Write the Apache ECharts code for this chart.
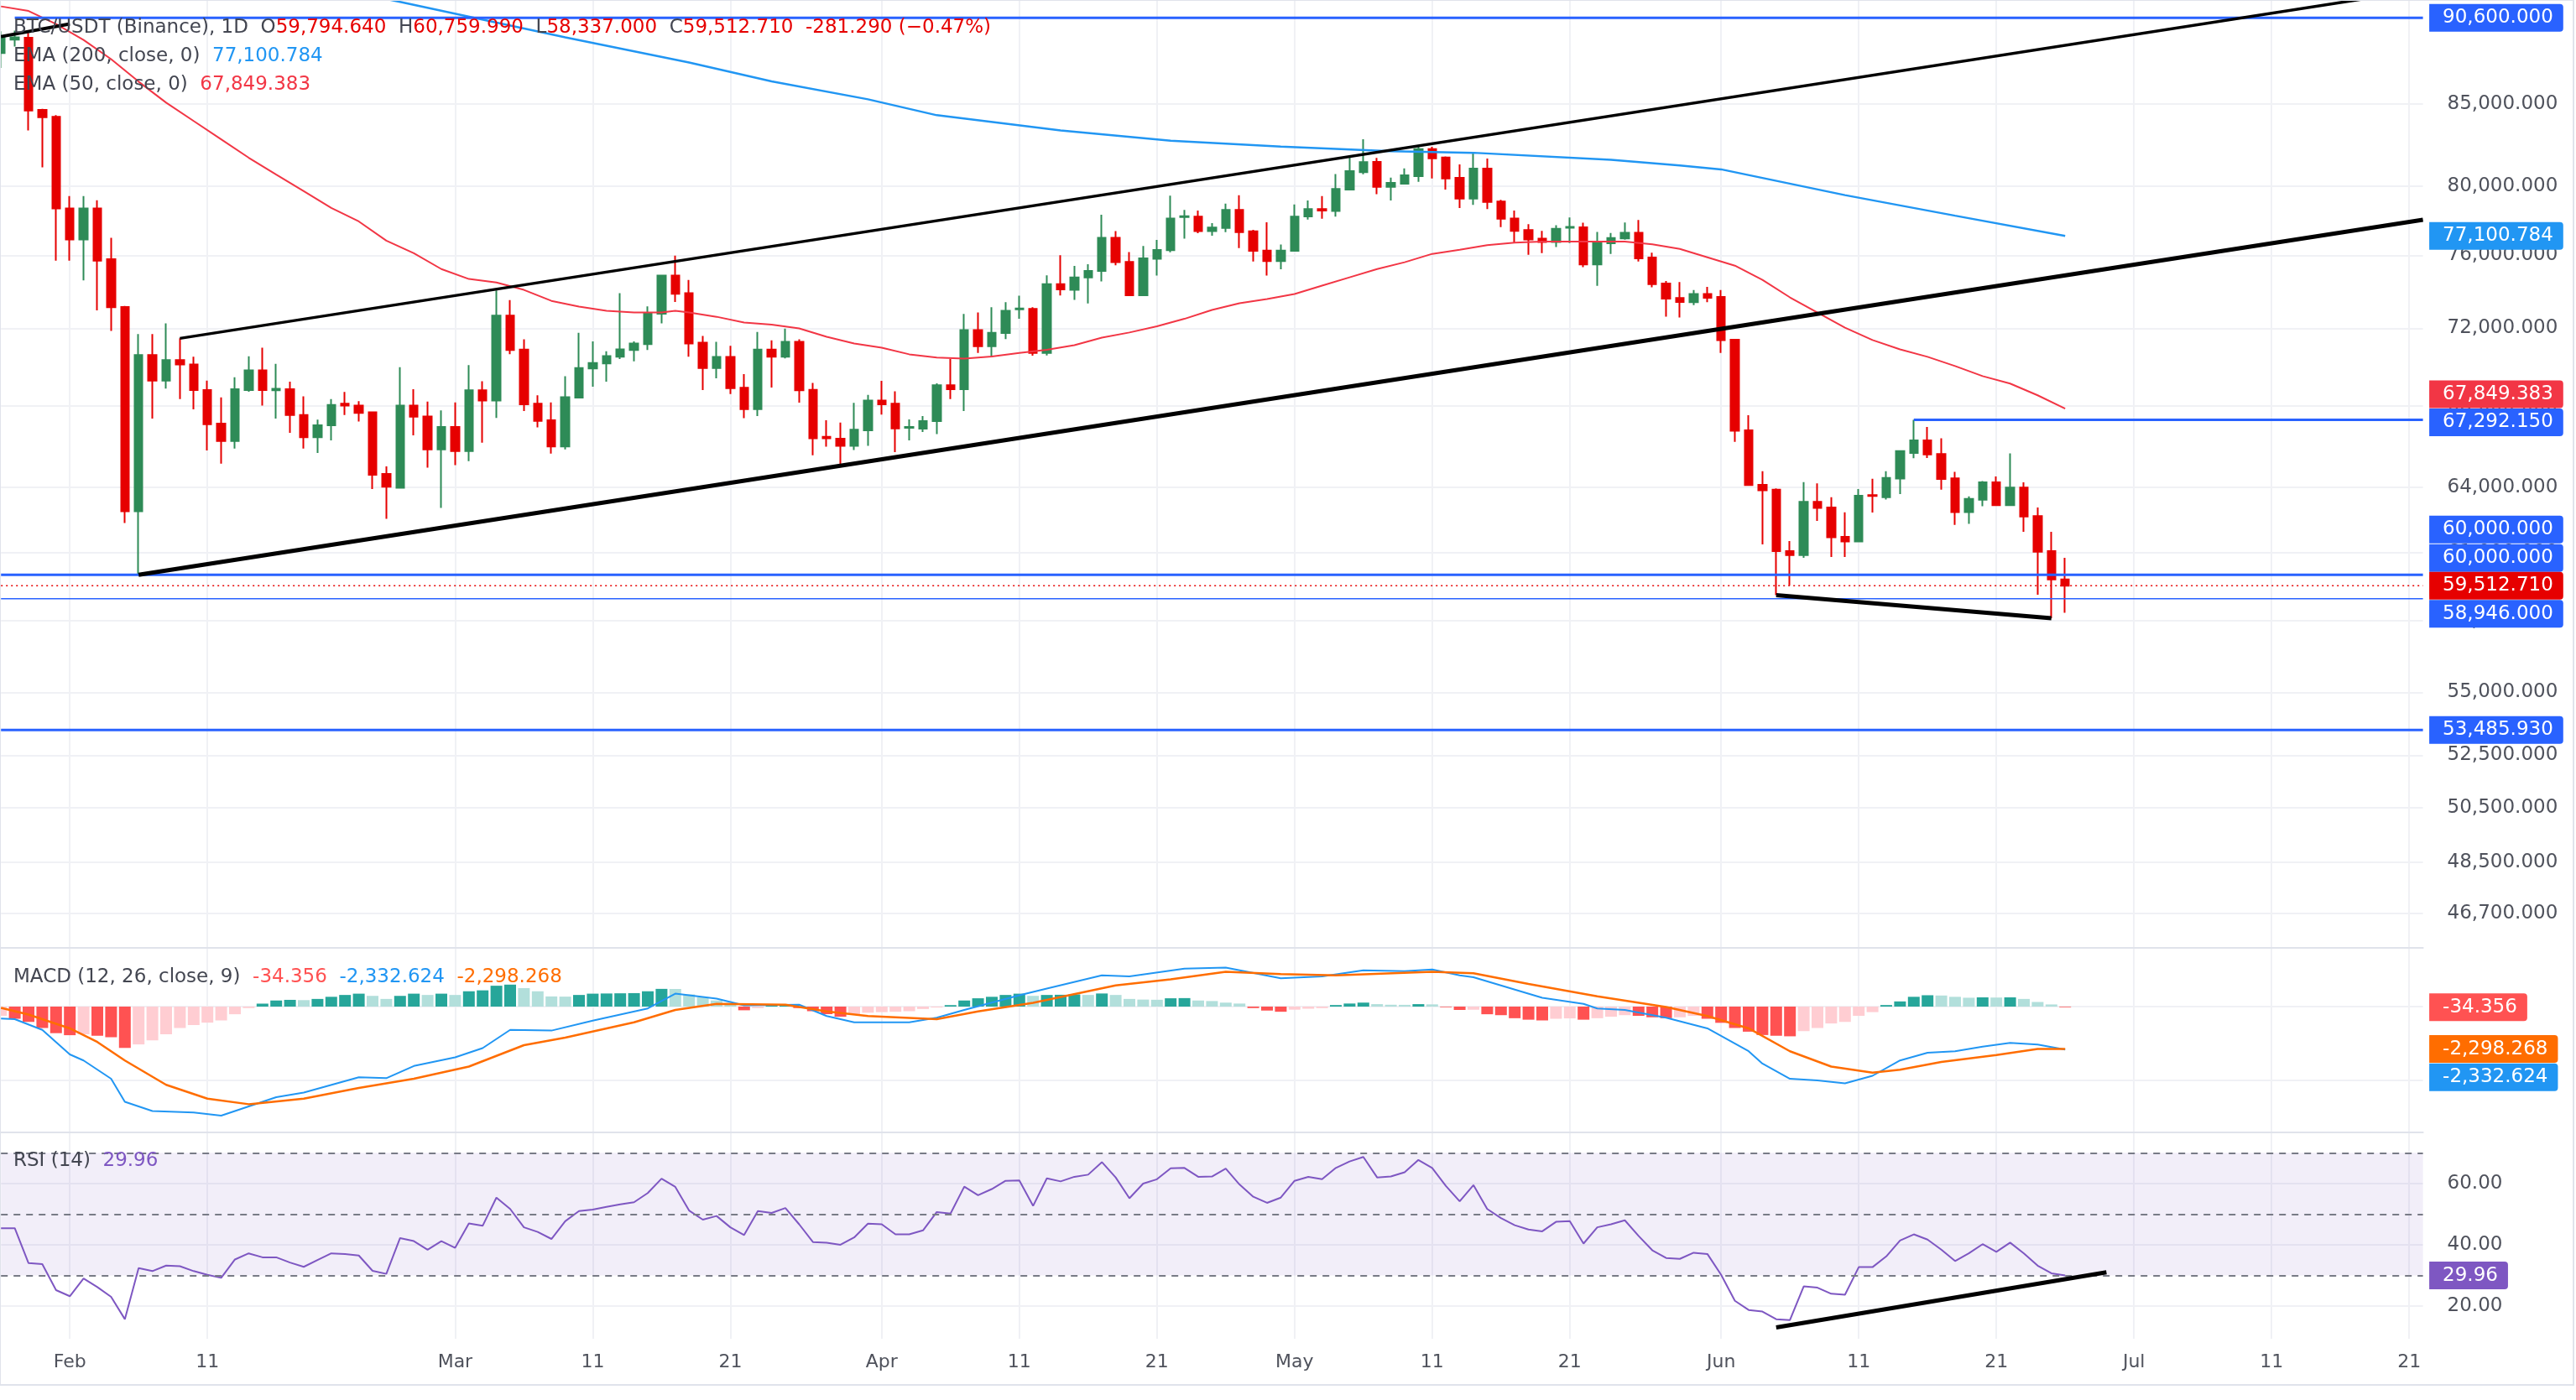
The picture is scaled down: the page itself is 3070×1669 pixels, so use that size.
<!DOCTYPE html>
<html>
<head>
<meta charset="utf-8">
<title>BTC/USDT 1D</title>
<script src="https://cdn.jsdelivr.net/npm/echarts@6/dist/echarts.min.js"></script>
<style>
  html, body { margin: 0; padding: 0; background: #fff; }
  #chart { width: 3070px; height: 1669px; }
</style>
</head>
<body>
<div id="chart"></div>
<script>
// daily bars starting 2026-01-27, rows are [open, high, low, close]
const candles = [
  [88270, 89700, 87300, 89270], [89150, 89750, 88700, 89300], [89270, 89600, 83360, 84590], [84640, 84700, 81110, 84180],
  [84200, 84300, 75700, 78680], [78680, 79400, 75700, 76900], [76900, 79400, 74600, 78680], [78680, 79160, 72970, 75700],
  [75780, 76990, 71860, 73130], [73150, 73200, 62340, 62890], [62890, 71700, 60000, 70590], [70590, 71700, 67350, 69270],
  [69270, 72270, 68860, 70330], [70330, 71470, 68330, 70100], [70100, 70500, 67810, 68790], [68790, 69270, 65780, 67070],
  [67100, 68410, 65140, 66240], [66240, 69440, 65870, 68830], [68790, 70530, 68700, 69800], [69800, 70980, 68000, 68790],
  [68780, 70130, 67350, 68850], [68830, 69220, 66640, 67530], [67530, 68470, 65870, 66430], [66430, 67300, 65660, 67020],
  [67020, 68330, 66270, 68030], [68100, 68690, 67530, 68000], [68000, 68220, 67200, 67630], [67660, 67700, 63930, 64610],
  [64650, 65010, 62540, 64040], [63990, 69960, 63950, 68000], [68000, 68830, 66520, 67440], [67460, 68200, 64950, 65830],
  [65830, 67760, 63040, 66930], [66930, 68160, 65070, 65750], [65750, 70070, 65260, 68780], [68780, 69240, 66160, 68250],
  [68250, 74050, 67380, 72680], [72680, 73520, 70640, 70860], [70880, 71420, 67730, 68070], [68100, 68520, 66910, 67240],
  [67270, 68160, 65630, 65970], [65970, 69490, 65830, 68420], [68400, 71760, 68400, 69920], [69900, 71310, 68960, 70180],
  [70160, 70790, 69220, 70540], [70510, 73900, 70390, 70890], [70860, 71310, 70260, 71200], [71170, 73180, 70860, 72820],
  [72780, 74900, 72270, 74870], [74870, 75980, 73420, 73860], [73900, 74630, 70510, 71200], [71240, 71600, 68790, 69920],
  [69920, 71290, 69390, 70490], [70490, 71080, 68580, 68880], [68900, 69600, 67370, 67820], [67820, 71810, 67480, 70880],
  [70880, 71360, 68910, 70510], [70510, 71990, 70420, 71290], [71290, 71420, 68150, 68780], [68800, 69150, 65550, 66380],
  [66450, 67270, 65960, 66380], [66350, 67150, 65010, 66010], [66010, 68140, 65800, 66800], [66770, 68540, 66010, 68250],
  [68250, 69260, 67550, 68070], [68100, 68720, 65700, 66860], [66890, 67310, 66270, 66930], [66850, 67480, 66690, 67230],
  [67220, 69130, 66580, 69030], [69030, 70380, 68330, 68830], [68830, 72770, 67730, 71910], [71910, 72850, 70700, 71050],
  [71050, 73140, 70480, 71760], [71750, 73410, 71430, 72940], [73020, 73760, 72510, 73070], [73050, 73140, 70560, 70700],
  [70700, 74880, 70570, 74390], [74390, 76010, 73770, 74110], [74080, 75400, 73530, 74760], [74770, 75500, 73340, 75130],
  [75130, 78320, 74540, 76990], [76990, 77370, 75440, 75620], [75630, 76180, 73780, 73780], [73780, 76530, 73750, 75830],
  [75810, 76870, 74870, 76300], [76290, 79430, 76170, 78100], [78180, 78600, 76940, 78230], [78200, 78560, 77250, 77370],
  [77370, 77830, 77110, 77580], [77550, 78960, 77310, 78600], [78600, 79450, 76410, 77310], [77360, 77440, 75650, 76250],
  [76270, 77880, 74870, 75670], [75670, 76610, 75220, 76270], [76250, 78910, 76250, 78200], [78220, 79140, 78040, 78650],
  [78650, 79400, 78090, 78560], [78530, 80710, 78200, 79830], [79790, 81720, 79790, 80880], [80820, 82820, 80690, 81420],
  [81440, 81680, 79510, 79950], [79950, 80490, 79150, 80180], [80130, 81050, 80130, 80630], [80580, 82450, 80250, 82210],
  [82210, 82350, 80440, 81650], [81700, 81770, 79790, 80440], [80480, 81290, 78710, 79260], [79260, 82000, 78890, 81030],
  [81030, 81640, 78640, 79060], [79090, 79180, 77600, 78090], [78100, 78560, 76690, 77380], [77430, 77770, 76030, 76900],
  [76940, 77380, 76120, 76750], [76750, 77710, 76460, 77510], [77560, 78160, 76690, 77610], [77590, 77860, 75340, 75490],
  [75490, 77320, 74300, 76700], [76680, 77260, 76070, 76980], [76950, 77870, 76880, 77280], [77280, 78010, 75650, 75830],
  [75870, 76150, 74220, 74400], [74430, 74570, 72630, 73600], [73640, 74510, 72580, 73420], [73410, 74070, 73250, 73850],
  [73850, 74250, 73410, 73650], [73690, 74070, 70700, 71370], [71400, 71400, 66200, 66750], [66770, 67520, 64120, 64120],
  [64130, 64780, 61360, 63870], [63900, 63960, 59100, 61060], [61060, 61520, 59530, 60880], [60880, 64260, 60760, 63330],
  [63330, 64200, 62440, 63040], [63060, 63540, 60790, 61690], [61710, 62840, 60790, 61500], [61500, 63930, 61500, 63610],
  [63640, 64420, 62830, 63600], [63540, 64780, 63430, 64460], [64430, 65790, 63690, 65750], [65660, 67292.15, 65400, 66270],
  [66270, 66930, 65410, 65590], [65610, 66380, 63900, 64410], [64440, 64750, 62250, 62850], [62850, 63580, 62300, 63460],
  [63420, 64310, 63120, 64250], [64250, 64530, 63170, 63170], [63170, 65640, 63170, 64000], [64000, 64250, 61940, 62640],
  [62660, 63060, 59120, 61030], [61060, 61940, 58100, 59794.64], [59794.64, 60759.99, 58337, 59512.71]
];

// [day index, value]
const ema200 = [
  [25, 92475], [29, 91670], [41, 89300], [50, 87650], [56, 86440], [63, 85300], [68, 84300], [77, 83360],
  [85, 82730], [93, 82360], [101, 82090], [107, 81990], [117, 81560], [122, 81220], [125, 80990], [134, 79460],
  [142, 78260], [150, 77100.784]
];
const ema50 = [
  [0, 91370], [2, 91060], [4, 90190], [6, 89130], [8, 87870], [10, 86420], [12, 85090], [14, 83940], [16, 82810],
  [18, 81690], [20, 80680], [22, 79690], [24, 78710], [26, 77930], [28, 76830], [30, 76120], [32, 75230], [34, 74680],
  [36, 74490], [38, 74080], [40, 73480], [42, 73170], [44, 72940], [46, 72850], [48, 72850], [49, 72940], [50, 72850],
  [52, 72620], [54, 72310], [56, 72200], [58, 72000], [60, 71550], [62, 71200], [64, 70980], [66, 70630], [68, 70460],
  [70, 70410], [72, 70520], [74, 70700], [76, 70870], [78, 71110], [80, 71510], [82, 71780], [84, 72110], [86, 72510],
  [88, 72990], [90, 73350], [92, 73580], [94, 73850], [96, 74310], [98, 74770], [100, 75230], [102, 75610], [104, 76080],
  [106, 76310], [108, 76570], [110, 76710], [112, 76780], [116, 76780], [118, 76780], [120, 76620], [122, 76360],
  [124, 75890], [126, 75420], [128, 74630], [130, 73670], [132, 72850], [134, 72040], [136, 71380], [138, 70890],
  [140, 70500], [142, 70020], [144, 69500], [146, 69120], [148, 68520], [150, 67849.383]
];

// MACD (12, 26, 9)
const macdLine = [
  [0, -645], [1, -680], [3, -1260], [5, -2590], [6, -2920], [8, -3910], [9, -5160], [11, -5660], [14, -5740],
  [16, -5910], [20, -4910], [22, -4660], [26, -3830], [28, -3880], [30, -3220], [33, -2750], [35, -2250], [37, -1260],
  [40, -1300], [43, -760], [47, -100], [49, 700], [52, 430], [54, 70], [58, 100], [60, -510], [62, -850], [66, -850],
  [68, -600], [70, -180], [74, 610], [76, 980], [80, 1690], [82, 1640], [86, 2060], [89, 2110], [93, 1530], [96, 1640],
  [99, 1970], [102, 1920], [104, 2010], [106, 1690], [107, 1590], [112, 480], [115, 150], [116, -100], [118, -180],
  [121, -600], [124, -1180], [127, -2420], [128, -3090], [130, -3910], [132, -4000], [134, -4160], [136, -3750],
  [138, -2920], [140, -2500], [142, -2420], [144, -2170], [146, -1970], [148, -2060], [150, -2332.624]
];
const signalLine = [
  [0, -70], [2, -430], [5, -1180], [7, -1920], [9, -2920], [12, -4240], [15, -4990], [18, -5290], [22, -4990],
  [26, -4410], [30, -3910], [34, -3250], [38, -2090], [41, -1680], [46, -850], [49, -180], [52, 150], [57, 100],
  [60, -260], [63, -510], [68, -680], [71, -260], [75, 200], [81, 1150], [85, 1480], [89, 1890], [93, 1760],
  [97, 1690], [104, 1890], [107, 1810], [111, 1230], [116, 560], [121, -20], [124, -510], [127, -1180], [130, -2420],
  [133, -3250], [136, -3580], [138, -3420], [141, -3000], [145, -2620], [148, -2300], [150, -2298.268]
];
const macdHist = [
  -500, -660, -830, -1160, -1440, -1550, -1500, -1580, -1660, -2240,
  -2050, -1830, -1500, -1160, -1000, -870, -750, -415, -80, 160,
  330, 365, 350, 415, 530, 630, 700, 580, 415, 580,
  700, 630, 700, 630, 830, 880, 1130, 1190, 1000, 830,
  550, 540, 630, 700, 710, 720, 730, 830, 960, 955,
  660, 500, 330, 200, -200, -80, 50, 60, -80, -250,
  -410, -550, -410, -330, -300, -280, -250, -130, -50, 80,
  330, 450, 530, 630, 700, 580, 630, 640, 660, 630,
  710, 630, 415, 380, 370, 450, 460, 330, 300, 215,
  165, -80, -216, -280, -166, -116, -83, 83, 166, 216,
  133, 100, 95, 133, 120, -33, -183, -170, -415, -465,
  -630, -710, -750, -660, -640, -710, -630, -550, -465, -500,
  -580, -630, -580, -500, -660, -880, -1160, -1360, -1540, -1580,
  -1610, -1330, -1160, -915, -830, -500, -300, 83, 280, 530,
  615, 600, 530, 480, 500, 490, 500, 415, 250, 116,
  -34.356
];

// RSI (14)
const rsi = [
  45.4, 45.4, 34.0, 33.7, 25.2, 23.2, 29.0, 26.2, 23.0, 15.7,
  32.4, 31.4, 33.2, 33.0, 31.4, 30.2, 29.2, 35.2, 37.2, 35.9,
  35.9, 34.2, 32.8, 35.0, 37.2, 37.0, 36.5, 31.5, 30.5, 42.2,
  41.2, 38.4, 41.2, 39.0, 47.0, 46.2, 55.4, 51.7, 45.7, 44.2,
  41.9, 47.7, 51.0, 51.5, 52.4, 53.2, 53.9, 56.9, 61.6, 58.9,
  51.2, 48.2, 49.4, 45.7, 43.2, 51.0, 50.4, 52.0, 46.7, 40.9,
  40.7, 40.0, 42.4, 46.9, 46.7, 43.4, 43.4, 44.7, 50.7, 50.2,
  59.0, 56.2, 58.2, 60.9, 61.0, 52.7, 61.7, 60.7, 62.2, 62.9,
  67.0, 62.0, 55.2, 60.0, 61.4, 65.0, 65.1, 62.2, 62.3, 64.9,
  59.7, 55.7, 53.7, 55.4, 60.9, 62.2, 61.4, 65.1, 67.2, 68.7,
  62.0, 62.3, 63.7, 67.7, 65.1, 59.2, 54.2, 59.5, 51.7, 48.7,
  46.4, 45.0, 44.4, 47.5, 47.7, 40.4, 45.7, 46.7, 48.0, 42.9,
  38.2, 35.7, 35.4, 37.4, 37.0, 30.2, 21.7, 18.7, 18.2, 15.7,
  15.4, 26.4, 26.0, 24.0, 23.7, 32.7, 32.7, 36.2, 41.4, 43.4,
  41.7, 38.4, 34.7, 37.2, 40.2, 37.7, 40.7, 37.2, 33.2, 30.7,
  29.96
];

// drawings: [day index, price] end points
const upperChannel = [[13, 71470], [176, 92505]];
const lowerChannel = [[10, 60000], [176, 78020]];
const supportSlope = [[129, 59100], [149, 58100]];
const oldTrend = [[0, 89350], [5, 90190]];
const rsiTrend = [[129, 13.0], [153, 31.0]];
const levels = [
  { price: 90600, from: 1, width: 3 },
  { price: 67292.15, from: 139, width: 3 },
  { price: 60000, from: 0, width: 3 },
  { price: 58946, from: 0, width: 1.5 },
  { price: 53485.93, from: 0, width: 3 }
];
const lastPrice = 59512.71;

const priceTicks = [85000, 80000, 76000, 72000, 68000, 64000, 61000, 58000, 55000, 52500, 50500, 48500, 46700];
const macdTicks = [-4000, 0];
const rsiTicks = [20, 40, 60];
const rsiBands = [30, 50, 70];

const headerChange = '-281.290 (\u22120.47%)';
const monthNames = ['Jan', 'Feb', 'Mar', 'Apr', 'May', 'Jun', 'Jul', 'Aug', 'Sep', 'Oct', 'Nov', 'Dec'];
const skippedMarks = ['2026-02-21'];

const dayCount = 177;
const dates = [];
for (let i = 0; i < dayCount; i++) {
  dates.push(new Date(Date.UTC(2026, 0, 27) + i * 86400000).toISOString().slice(0, 10));
}
const lastIdx = dayCount - 1;

const fam = "'DejaVu Sans', sans-serif";
const red = '#e60000';
const green = '#2e8b57';
const lineBlue = '#2962ff';
const gridColor = '#f0f1f5';
const textGray = '#4f525c';

function fmt(v, d) {
  return v.toLocaleString('en-US', { minimumFractionDigits: d, maximumFractionDigits: d });
}
function isMark(idx) {
  const d = dates[idx];
  const day = +d.slice(8);
  return (day === 1 || day === 11 || day === 21) && skippedMarks.indexOf(d) < 0;
}
function tag(value, bg, dy, text) {
  return {
    coord: [lastIdx, value],
    label: { formatter: text || fmt(value, 3), backgroundColor: bg, offset: [0, dy || 0] }
  };
}
function tags(list) {
  return {
    symbol: 'rect',
    symbolSize: 1,
    silent: true,
    itemStyle: { color: 'rgba(0,0,0,0)' },
    label: {
      show: true, position: 'right', distance: 7, color: '#fff', fontSize: 23, fontFamily: fam,
      fontWeight: 'normal', lineHeight: 24, padding: [5, 12, 4, 16], borderRadius: [0, 4, 4, 0]
    },
    data: list
  };
}
function seg(points, color, width, extra) {
  return Object.assign({
    type: 'line', xAxisIndex: 0, yAxisIndex: 0, data: points, symbol: 'none', z: 5,
    lineStyle: { color: color, width: width }, silent: true
  }, extra || {});
}

const chart = echarts.init(document.getElementById('chart'));

const xAxisBase = (gi, showLine, showLabel) => ({
  type: 'category', gridIndex: gi, data: dates, boundaryGap: false,
  axisLine: { show: showLine, onZero: false, lineStyle: { color: '#e0e3eb', width: 2 } },
  axisTick: { show: false },
  axisLabel: {
    show: showLabel, interval: (i) => isMark(i), margin: 17, color: textGray, fontSize: 22, fontFamily: fam,
    formatter: (v) => { const day = +v.slice(8); return day === 1 ? monthNames[+v.slice(5, 7) - 1] : String(day); }
  },
  splitLine: { show: true, interval: (i) => isMark(i), lineStyle: { color: gridColor, width: 2 } }
});

const last = candles[candles.length - 1];
const rs = (color) => ({ color: color, fontSize: 23, fontFamily: fam, fontWeight: 'normal', lineHeight: 26 });
const rich = {
  n: rs('#434651'), r: rs(red), b: rs('#2196f3'), p: rs('#f23645'),
  h: rs('#ff5252'), o: rs('#ff6d00'), v: rs('#7e57c2')
};
const titleText = (left, top, text) => ({
  left: left, top: top, padding: 0, text: text, z: 10,
  textStyle: { fontSize: 23, fontFamily: fam, fontWeight: 'normal', color: '#434651', lineHeight: 26, rich: rich }
});

const levelSeries = levels.map((lv) => seg([[lv.from, lv.price], [lastIdx, lv.price]], lineBlue, lv.width));
// right scale tags for the level lines
levelSeries[0].markPoint = tags([tag(90600, lineBlue)]);
levelSeries[1].markPoint = tags([tag(67292.15, lineBlue, 3)]);
levelSeries[2].markPoint = tags([tag(60000, lineBlue, -54), tag(60000, lineBlue, -20)]);
levelSeries[3].markPoint = tags([tag(58946, lineBlue, 18)]);
levelSeries[4].markPoint = tags([tag(53485.93, lineBlue)]);

const histColors = macdHist.map((v, i) => {
  const prev = i ? macdHist[i - 1] : -Infinity;
  if (v >= 0) return v >= prev ? '#26a69a' : '#b2dfdb';
  return v <= prev ? '#ff5252' : '#ffcdd2';
});

chart.setOption({
  animation: false,
  backgroundColor: '#ffffff',
  title: [
    titleText(16, 20, '{n|BTC/USDT (Binance), 1D}  {n|O}{r|' + fmt(last[0], 3) + '}  {n|H}{r|' + fmt(last[1], 3) +
      '}  {n|L}{r|' + fmt(last[2], 3) + '}  {n|C}{r|' + fmt(last[3], 3) + '}  {r|' + headerChange + '}'),
    titleText(16, 54, '{n|EMA (200, close, 0)}  {b|' + fmt(ema200[ema200.length - 1][1], 3) + '}'),
    titleText(16, 88, '{n|EMA (50, close, 0)}  {p|' + fmt(ema50[ema50.length - 1][1], 3) + '}'),
    titleText(16, 1152, '{n|MACD (12, 26, close, 9)}  {h|' + fmt(macdHist[macdHist.length - 1], 3) + '}  {b|' +
      fmt(macdLine[macdLine.length - 1][1], 3) + '}  {o|' + fmt(signalLine[signalLine.length - 1][1], 3) + '}'),
    titleText(16, 1371, '{n|RSI (14)}  {v|' + fmt(rsi[rsi.length - 1], 2) + '}')
  ],
  graphic: [{
    type: 'rect', silent: true, z: 100,
    shape: { x: 0, y: 0, width: 3067, height: 1651 },
    style: { fill: 'none', stroke: '#e0e3eb', lineWidth: 2 }
  }],
  grid: [
    { left: 1.2, right: 182.4, top: 0, height: 1130 },
    { left: 1.2, right: 182.4, top: 1131, height: 219 },
    { left: 1.2, right: 182.4, top: 1350, height: 246 }
  ],
  xAxis: [xAxisBase(0, true, false), xAxisBase(1, true, false), xAxisBase(2, false, true)],
  yAxis: [
    {
      type: 'log', logBase: 10, gridIndex: 0, position: 'right', min: 45524, max: 91803,
      axisLine: { show: false },
      axisTick: { show: false, customValues: priceTicks },
      axisLabel: {
        customValues: priceTicks, margin: 29, color: textGray, fontSize: 23, fontFamily: fam,
        formatter: (v) => fmt(v, 3)
      },
      splitLine: { show: true, lineStyle: { color: gridColor, width: 2 } }
    },
    {
      type: 'value', gridIndex: 1, position: 'right', min: -6818, max: 3136,
      axisLine: { show: false },
      axisTick: { show: false, customValues: macdTicks },
      axisLabel: { show: false },
      splitLine: { show: true, lineStyle: { color: gridColor, width: 2 } }
    },
    {
      type: 'value', gridIndex: 2, position: 'right', min: 9.3, max: 76.7,
      axisLine: { show: false },
      axisTick: { show: false, customValues: rsiTicks },
      axisLabel: {
        customValues: rsiTicks, margin: 29, color: textGray, fontSize: 23, fontFamily: fam,
        formatter: (v) => v.toFixed(2)
      },
      splitLine: { show: true, lineStyle: { color: gridColor, width: 2 } }
    }
  ],
  series: [
    {
      type: 'candlestick', name: 'BTC/USDT', xAxisIndex: 0, yAxisIndex: 0, z: 3,
      data: candles.map((c) => [c[0], c[3], c[2], c[1]]),
      barWidth: 10,
      itemStyle: { color: green, color0: red, borderColor: green, borderColor0: red, borderWidth: 2 },
      silent: true
    },
    seg(ema200, '#2196f3', 2.5, { z: 4, markPoint: tags([tag(ema200[ema200.length - 1][1], '#2196f3')]) }),
    seg(ema50, '#f23645', 2, { z: 4, markPoint: tags([tag(ema50[ema50.length - 1][1], '#f23645', -17)]) }),
    ...levelSeries,
    seg([[0, lastPrice], [lastIdx, lastPrice]], red, 1.5, {
      lineStyle: { color: red, width: 1.5, type: [2, 4] },
      markPoint: tags([tag(lastPrice, red)])
    }),
    seg(upperChannel, '#000', 3.5),
    seg(lowerChannel, '#000', 5),
    seg(supportSlope, '#000', 5),
    seg(oldTrend, '#000', 4),
    {
      type: 'bar', xAxisIndex: 1, yAxisIndex: 1, barWidth: 14, silent: true,
      data: macdHist.map((v, i) => ({ value: v, itemStyle: { color: histColors[i] } }))
    },
    {
      type: 'line', xAxisIndex: 1, yAxisIndex: 1, data: macdLine, symbol: 'none', silent: true, z: 4,
      lineStyle: { color: '#2196f3', width: 2 },
      markPoint: tags([
        tag(macdHist[macdHist.length - 1], '#ff5252', 0),
        tag(macdLine[macdLine.length - 1][1], '#2196f3', 33)
      ])
    },
    {
      type: 'line', xAxisIndex: 1, yAxisIndex: 1, data: signalLine, symbol: 'none', silent: true, z: 4,
      lineStyle: { color: '#ff6d00', width: 2.5 },
      markPoint: tags([tag(signalLine[signalLine.length - 1][1], '#ff6d00', 0)])
    },
    {
      type: 'line', xAxisIndex: 2, yAxisIndex: 2, data: rsi, symbol: 'none', silent: true, z: 4,
      lineStyle: { color: '#7e57c2', width: 2 },
      markArea: {
        silent: true, itemStyle: { color: 'rgba(126,87,194,0.1)' },
        data: [[{ yAxis: rsiBands[0] }, { yAxis: rsiBands[2] }]]
      },
      markLine: {
        silent: true, symbol: 'none', label: { show: false },
        lineStyle: { color: '#787b86', width: 2, type: [8, 7] },
        data: rsiBands.map((b) => ({ yAxis: b }))
      },
      markPoint: tags([tag(rsi[rsi.length - 1], '#7e57c2', 0, fmt(rsi[rsi.length - 1], 2))])
    },
    {
      type: 'line', xAxisIndex: 2, yAxisIndex: 2, data: rsiTrend, symbol: 'none', silent: true, z: 5,
      lineStyle: { color: '#000', width: 5 }
    }
  ]
});
</script>
</body>
</html>
